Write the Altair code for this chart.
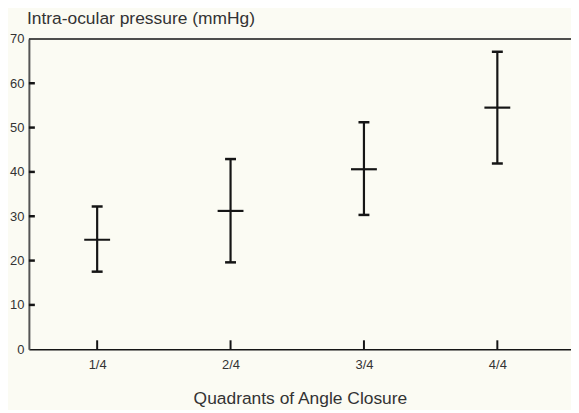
import altair as alt
import pandas as pd

categories = ["1/4", "2/4", "3/4", "4/4"]
means = [24.7, 31.2, 40.6, 54.5]
lows = [17.5, 19.6, 30.3, 41.9]
highs = [32.2, 42.9, 51.2, 67.1]
y_ticks = [0, 10, 20, 30, 40, 50, 60, 70]
inner_ticks = [10, 20, 30, 40, 50, 60]

INK = "#151515"
TXT = "#333333"
FONT = "Liberation Sans"
W, H = 545, 312

df = pd.DataFrame({"quadrant": categories, "mean": means, "low": lows, "high": highs})

xscale = alt.Scale(type="point", padding=0.532, align=0.481)
yscale = alt.Scale(domain=[0, 70], nice=False, zero=True)

xenc = alt.X(
    "quadrant:N",
    sort=categories,
    scale=xscale,
    axis=alt.Axis(
        title="Quadrants of Angle Closure",
        labelAngle=0,
        ticks=False,
        domain=True,
        domainColor=INK,
        domainWidth=1.5,
        labelPadding=9,
        labelFontSize=13,
        labelColor=TXT,
        labelFont=FONT,
        titleFont=FONT,
        titleFontSize=17.5,
        titleFontWeight="normal",
        titleColor=TXT,
        titlePadding=19,
    ),
)

base = alt.Chart(df).encode(x=xenc)

vertical = base.mark_rule(strokeWidth=2.2, color=INK).encode(
    y=alt.Y(
        "low:Q",
        scale=yscale,
        axis=alt.Axis(
            title=None,
            values=y_ticks,
            ticks=False,
            grid=False,
            domain=True,
            domainColor="#555555",
            domainWidth=2,
            labelPadding=5,
            labelFontSize=13,
            labelColor=TXT,
            labelFont=FONT,
        ),
    ),
    y2="high:Q",
)

cap_hi = base.mark_tick(size=11, thickness=2.5, color=INK, opacity=1).encode(y=alt.Y("high:Q", scale=yscale))
cap_lo = base.mark_tick(size=11, thickness=2.5, color=INK, opacity=1).encode(y=alt.Y("low:Q", scale=yscale))
mean_tick = base.mark_tick(size=26, thickness=2.2, color=INK, opacity=1).encode(y=alt.Y("mean:Q", scale=yscale))

xticks = base.mark_rule(strokeWidth=2, color=INK).encode(y=alt.value(H - 9), y2=alt.value(H))

yt = alt.Chart(pd.DataFrame({"v": inner_ticks})).mark_rule(strokeWidth=2.5, color=INK).encode(
    y=alt.Y("v:Q", scale=yscale), x=alt.value(0), x2=alt.value(6)
)

top_border = alt.Chart(pd.DataFrame({"v": [70]})).mark_rule(strokeWidth=1.5, color=INK).encode(
    y=alt.Y("v:Q", scale=yscale)
)

chart = (
    alt.layer(top_border, yt, xticks, vertical, cap_hi, cap_lo, mean_tick)
    .properties(
        width=W,
        height=H,
        autosize=alt.AutoSizeParams(type="none"),
        padding={"left": 21, "top": 30, "right": 0, "bottom": 60},
        background="#fbfbf3",
        title=alt.Title(
            "Intra-ocular pressure (mmHg)",
            anchor="start",
            frame="group",
            fontSize=17.5,
            font=FONT,
            fontWeight="normal",
            color=TXT,
            offset=5,
            dx=-2,
        ),
    )
    .configure_view(stroke=None)
)

chart.save("out.html", embed_options={"renderer": "svg", "actions": False})
